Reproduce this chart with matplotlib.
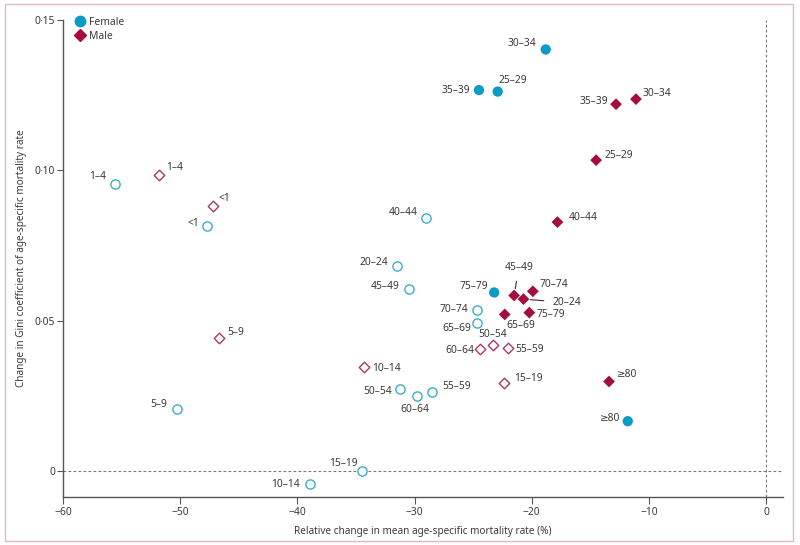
import matplotlib
matplotlib.use("Agg")
import matplotlib.pyplot as plt
from matplotlib.patches import Rectangle
from matplotlib.lines import Line2D

plt.rcParams['font.family'] = ['Noto Sans', 'DejaVu Sans']

# age groups (same order for both sexes)
ages = ["<1", "1–4", "5–9", "10–14", "15–19", "20–24", "25–29", "30–34", "35–39",
        "40–44", "45–49", "50–54", "55–59", "60–64", "65–69", "70–74", "75–79", "≥80"]

# relative change in mean age-specific mortality rate (%)
female_x = [-47.7, -55.6, -50.3, -38.9, -34.5, -31.5, -22.9, -18.8, -24.5,
            -29.0, -30.5, -31.2, -28.5, -29.8, -24.7, -24.7, -23.2, -11.8]
male_x = [-47.2, -51.8, -46.7, -34.3, -22.35, -20.7, -14.5, -11.1, -12.8,
          -17.8, -21.5, -23.3, -22.0, -24.4, -22.3, -19.9, -20.2, -13.4]

# change in Gini coefficient
female_y = [0.0816, 0.0955, 0.0205, -0.0044, 0.0, 0.0681, 0.1262, 0.1402, 0.1267,
            0.0843, 0.0604, 0.0273, 0.0262, 0.0251, 0.0493, 0.0536, 0.0594, 0.0166]
male_y = [0.0883, 0.0983, 0.0443, 0.0347, 0.0292, 0.0572, 0.1034, 0.1237, 0.1220,
          0.0828, 0.0584, 0.0419, 0.0410, 0.0406, 0.0521, 0.0598, 0.0527, 0.0298]

# filled marker = significant
female_sig = [False, False, False, False, False, False, True, True, True,
              False, False, False, False, False, False, False, True, True]
male_sig = [False, False, False, False, False, True, True, True, True,
            True, True, False, False, False, True, True, True, True]

# label placement: (dx, dy) in pixels, horizontal alignment
female_lab = [(-8, 2, 'right'), (-8, 7, 'right'), (-9, 5, 'right'), (-10, 0, 'right'),
              (-4, 8, 'right'), (-8.6, 4, 'right'), (1, 11, 'left'), (-9, 6, 'right'),
              (-9, 0, 'right'), (-8, 5, 'right'), (-8.7, 3, 'right'), (-8, -2, 'right'),
              (10, 6, 'left'), (-2, -14, 'center'), (-5, -6, 'right'), (-8, 0, 'right'),
              (-6, 6, 'right'), (-7.7, 3, 'right')]
male_lab = [(6, 7, 'left'), (7, 8, 'left'), (8.4, 5.3, 'left'), (8, -1.4, 'left'),
            (10, 4.4, 'left'), (28.7, -3.4, 'left'), (8.6, 5, 'left'), (6.6, 6, 'left'),
            (-8, 3, 'right'), (11, 5, 'left'), (4.7, 28, 'center'), (0, 10.3, 'center'),
            (7.3, -2, 'left'), (-6, -1.7, 'right'), (2, -10.6, 'left'), (6.3, 6.3, 'left'),
            (7, -1.6, 'left'), (8.3, 6.7, 'left')]
leader = {("M", "45–49"), ("M", "20–24")}

fcol = "#0a9cc4"
fopen = "#3aaec6"
mcol = "#a50d3c"
mopen = "#a83a62"
tcol = "#3a3a3a"

fig = plt.figure(figsize=(8, 5.45), dpi=100)
ax = fig.add_axes([63 / 800, 1 - 497 / 545, 720 / 800, 477 / 545])

fig.patches.append(Rectangle((5 / 800, 4 / 545), 788 / 800, 537 / 545, transform=fig.transFigure,
                             fill=False, edgecolor="#e2b6cb", linewidth=1.0))

ax.axhline(0, color="#777777", lw=0.8, ls=(0, (2.5, 2)), zorder=1)
ax.axvline(0, color="#777777", lw=0.8, ls=(0, (2.5, 2)), zorder=1)


def draw(xs, ys, sig, labs, marker, col, ocol, size, tag):
    fx = [x for x, s in zip(xs, sig) if s]
    fy = [y for y, s in zip(ys, sig) if s]
    ox = [x for x, s in zip(xs, sig) if not s]
    oy = [y for y, s in zip(ys, sig) if not s]
    ax.scatter(fx, fy, s=size, marker=marker, color=col, edgecolors="none", zorder=3)
    ax.scatter(ox, oy, s=size * 0.8, marker=marker, facecolors="white", edgecolors=ocol,
               linewidths=1.0, zorder=3)
    for a, x, y, (dx, dy, ha) in zip(ages, xs, ys, labs):
        if (tag, a) in leader:
            ax.annotate(a, (x, y), xytext=(dx, dy), textcoords="offset pixels",
                        ha=ha, va="center", fontsize=7.4, color=tcol,
                        arrowprops=dict(arrowstyle="-", color="#333333", lw=0.8,
                                        shrinkA=4, shrinkB=5))
        else:
            ax.annotate(a, (x, y), xytext=(dx, dy), textcoords="offset pixels",
                        ha=ha, va="center", fontsize=7.4, color=tcol)


draw(female_x, female_y, female_sig, female_lab, "o", fcol, fopen, 55, "F")
draw(male_x, male_y, male_sig, male_lab, "D", mcol, mopen, 36, "M")

ax.set_xlim(-60, 1.45)
ax.set_ylim(-0.0086, 0.15)
ax.set_xticks([-60, -50, -40, -30, -20, -10, 0])
ax.set_yticks([0, 0.05, 0.10, 0.15])
ax.set_yticklabels(["0", "0·05", "0·10", "0·15"])

for s in ["top", "right"]:
    ax.spines[s].set_visible(False)
for s in ["left", "bottom"]:
    ax.spines[s].set_color("#555555")
    ax.spines[s].set_linewidth(1.0)
ax.tick_params(axis="both", colors="#555555", labelcolor=tcol, labelsize=7.4, length=4.5, width=0.8)
ax.tick_params(axis="y", pad=1)
ax.tick_params(axis="x", pad=2, length=5)

ax.set_xlabel("Relative change in mean age-specific mortality rate (%)", fontsize=7.2, color=tcol, labelpad=6)
ax.set_ylabel("Change in Gini coefficient of age-specific mortality rate", fontsize=7.2, color=tcol, labelpad=6)

handles = [Line2D([], [], marker="o", ls="", color=fcol, markersize=7.5, label="Female"),
           Line2D([], [], marker="D", ls="", color=mcol, markersize=6, label="Male")]
ax.legend(handles=handles, loc="upper left", bbox_to_anchor=(0.005, 1.022), frameon=False,
          fontsize=7.4, handletextpad=0.3, labelspacing=0.3, borderaxespad=0.3,
          handlelength=1.2, labelcolor=tcol)

fig.savefig("out.png", dpi=100)
